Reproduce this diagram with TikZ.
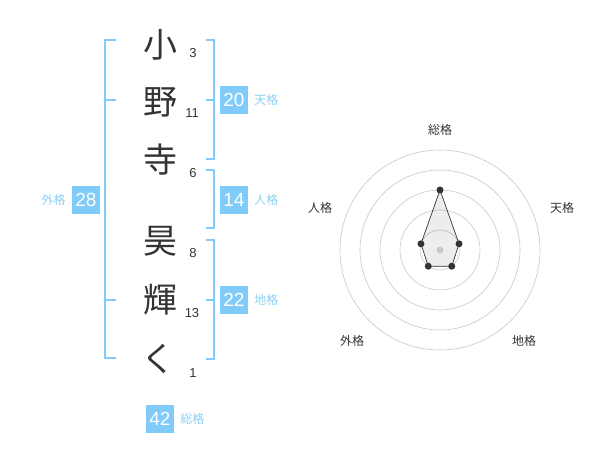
\documentclass[tikz,border=0pt]{standalone}
\usepackage{fontspec}
\setmainfont{Liberation Sans}
\newfontfamily\jpfont{Noto Sans CJK JP}
\usepackage{tikz}
\usetikzlibrary{positioning,calc}
\definecolor{kakusky}{HTML}{80CBFA}
\definecolor{kakulbl}{HTML}{8CCFF4}
\definecolor{inkgray}{HTML}{333333}

\begin{document}
\begin{tikzpicture}[x=1pt,y=-1pt,
    kanji/.style={font=\jpfont\fontsize{34}{34}\selectfont,text=inkgray,inner sep=0pt},
    strokes/.style={font=\fontsize{13}{13}\selectfont,text=inkgray,inner sep=0pt},
    kakubox/.style={fill=kakusky,text=white,minimum width=28pt,minimum height=28pt,inner sep=0pt,font=\fontsize{19}{19}\selectfont},
    kakuname/.style={font=\jpfont\fontsize{12}{12}\selectfont,text=kakulbl,inner sep=0pt},
    brace/.style={draw=kakusky,line width=1.6pt},
    ring/.style={draw=black!22,line width=0.6pt},
    axisname/.style={font=\jpfont\fontsize{12}{12}\selectfont,text=inkgray,inner sep=0pt}]
  \useasboundingbox (0,0) rectangle (600,470);

  % name column
  \node[kanji] (k1) at (160,45) {小};
  \node[kanji] (k2) at (160,102) {野};
  \node[kanji] (k3) at (160,160) {寺};
  \node[kanji] (k4) at (160,241) {昊};
  \node[kanji] (k5) at (160,300) {輝};
  \node[kanji] (k6) at (158,359) {く};
  \node[strokes] (n1) at (193,53) {3};
  \node[strokes] (n2) at (192,113) {11};
  \node[strokes] (n3) at (193,173) {6};
  \node[strokes] (n4) at (193,253) {8};
  \node[strokes] (n5) at (192,313) {13};
  \node[strokes] (n6) at (193,373) {1};

  % brackets
  \draw[brace] (116,40) -- (105,40) -- (105,358) -- (116,358);
  \draw[brace] (105,100) -- (116,100) (105,300) -- (116,300);
  \draw[brace] (206,40) -- (214,40) -- (214,159) -- (206,159) (214,100) -- (206,100);
  \draw[brace] (206,170) -- (214,170) -- (214,228) -- (206,228);
  \draw[brace] (206,240) -- (214,240) -- (214,359) -- (206,359) (214,300) -- (206,300);

  \node[kakubox] (gai) at (86,200) {28};
  \node[kakuname,left=6pt of gai] (gainame) {外格};
  \node[kakubox] (ten) at (234,100) {20};
  \node[kakuname,right=6pt of ten] (tenname) {天格};
  \node[kakubox] (jin) at (234,200) {14};
  \node[kakuname,right=6pt of jin] (jinname) {人格};
  \node[kakubox] (chi) at (234,300) {22};
  \node[kakuname,right=6pt of chi] (chiname) {地格};
  \node[kakubox] (sou) at (160,419) {42};
  \node[kakuname,right=6pt of sou] (souname) {総格};

  % radar
  \coordinate (c) at (440,250);
  \foreach \r in {20,40,60,80,100}
    \draw[ring] (c) circle[radius=\r pt];
  \coordinate (p1) at ($(c)+(90:60pt)$);
  \coordinate (p2) at ($(c)+(18:20pt)$);
  \coordinate (p3) at ($(c)+(-54:20pt)$);
  \coordinate (p4) at ($(c)+(-126:20pt)$);
  \coordinate (p5) at ($(c)+(162:20pt)$);
  \draw[draw=inkgray,fill=black,fill opacity=0.07,line width=0.7pt] (p1) -- (p2) -- (p3) -- (p4) -- (p5) -- cycle;
  \fill[black!22] (c) circle[radius=3.5pt];
  \foreach \p in {p1,p2,p3,p4,p5}
    \fill[inkgray] (\p) circle[radius=3.5pt];
  \node[axisname] (a1) at (440,130) {総格};
  \node[axisname] (a2) at (562,208) {天格};
  \node[axisname] (a3) at (524,341) {地格};
  \node[axisname] (a4) at (352,341) {外格};
  \node[axisname] (a5) at (320,208) {人格};
\end{tikzpicture}
\end{document}
